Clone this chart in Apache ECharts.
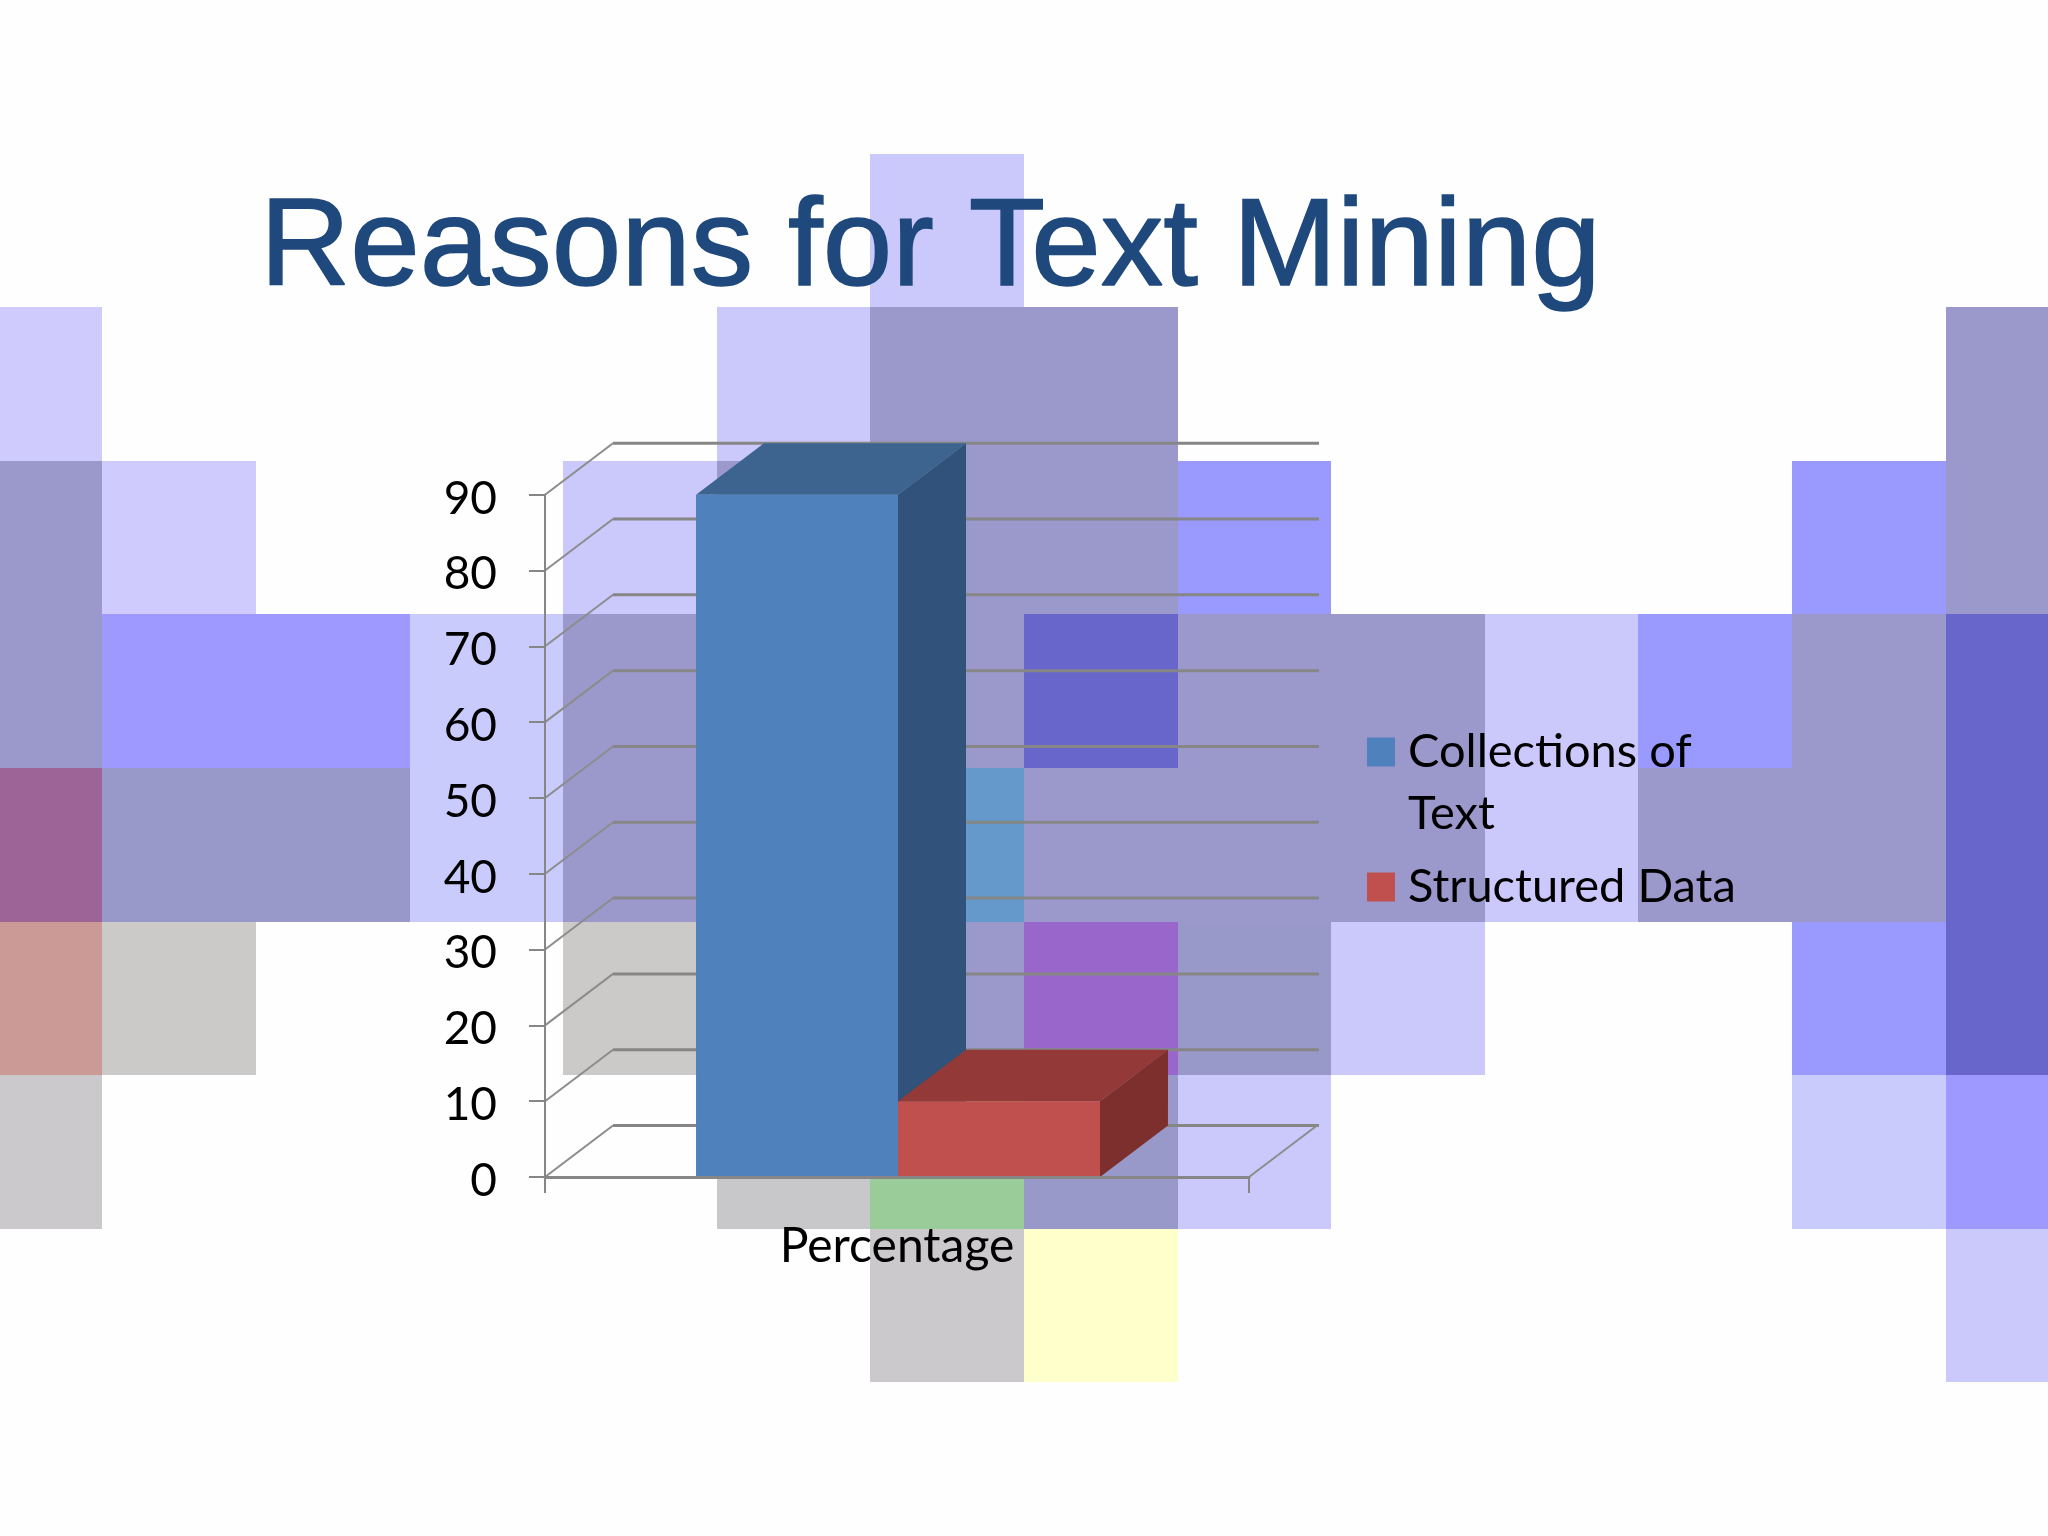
<!DOCTYPE html>
<html>
<head>
<meta charset="utf-8">
<style>html,body{margin:0;padding:0;background:#fefefe}#c{width:2048px;height:1536px}</style>
<script src="https://cdn.jsdelivr.net/npm/echarts@6/dist/echarts.min.js"></script>
</head>
<body>
<div id="c"></div>
<script>
const titleText = 'Reasons for Text Mining';
const categories = ['Percentage'];
const collectionsOfText = [90];
const structuredData = [10];
const yTicks = [0, 10, 20, 30, 40, 50, 60, 70, 80, 90];
const seriesNames = ['Collections of Text', 'Structured Data'];

const L = '#cbc9fb', D = '#9b98cc', M = '#9a99fd', S = '#6865cb', B = '#9899c8', G = '#cbcac9';
const backgroundCells = [
  [6,1,L],
  [0,2,'#cfcbfd'],[5,2,L],[6,2,D],[7,2,D],[13,2,D],
  [0,3,D],[1,3,'#cfcbfd'],[4,3,L],[5,3,D],[6,3,D],[7,3,D],[8,3,M],[12,3,M],[13,3,D],
  [0,4,D],[1,4,'#9d99fe'],[2,4,'#9d99fe'],[3,4,'#c9cbfc'],[4,4,D],[5,4,D],[6,4,D],[7,4,S],[8,4,D],[9,4,D],[10,4,L],[11,4,M],[12,4,D],[13,4,S],
  [0,5,'#9c6497'],[1,5,B],[2,5,B],[3,5,'#c9cbfc'],[4,5,D],[5,5,D],[6,5,'#6599cc'],[7,5,D],[8,5,D],[9,5,D],[10,5,L],[11,5,D],[12,5,D],[13,5,S],
  [0,6,'#cb9a97'],[1,6,G],[4,6,G],[5,6,D],[6,6,D],[7,6,'#9966cc'],[8,6,B],[9,6,L],[12,6,M],[13,6,S],
  [0,7,'#cbc9cc'],[5,7,'#c8c8cb'],[6,7,'#99cc99'],[7,7,B],[8,7,L],[12,7,'#c9cbfc'],[13,7,'#9d99fe'],
  [6,8,'#cbc9cc'],[7,8,'#ffffcc'],[13,8,L]
];

const depthX = 68, depthY = -51.5;
const barShare = 0.2869, barShift = 1;
const palette = [
  {front:'#4f81bd', side:'#31527a', top:'#3c648f'},
  {front:'#c0504d', side:'#7d2f2e', top:'#933a38'}
];

function bar3d(idx) {
  return function (params, api) {
    const c = palette[idx];
    const band = api.size([1, 0])[0];
    const w = band * barShare;
    const center = api.coord([api.value(0), 0])[0];
    const x0 = center + (idx - 1) * w + barShift, x1 = x0 + w;
    const y0 = api.coord([api.value(0), 0])[1];
    const y1 = api.coord([api.value(0), api.value(1)])[1];
    const dx = depthX, dy = depthY;
    return {type:'group', children:[
      {type:'polygon', shape:{points:[[x1,y1],[x1+dx,y1+dy],[x1+dx,y0+dy],[x1,y0]]}, style:{fill:c.side}},
      {type:'polygon', shape:{points:[[x0,y1],[x0+dx,y1+dy],[x1+dx,y1+dy],[x1,y1]]}, style:{fill:c.top}},
      {type:'rect', shape:{x:x0,y:y1,width:w,height:y0-y1}, style:{fill:c.front}}
    ]};
  };
}

function wall(params, api) {
  const cs = params.coordSys;
  const y = api.coord([0, api.value(1)])[1];
  const left = cs.x, right = cs.x + cs.width;
  const diag = {stroke:'#8c8c8c', lineWidth:2, fill:'none'};
  const flat = {stroke:'#868686', lineWidth:3, fill:'none'};
  const kids = [
    {type:'line', shape:{x1:left,y1:y,x2:left+depthX,y2:y+depthY}, style:diag},
    {type:'line', shape:{x1:left+depthX,y1:y+depthY,x2:right+depthX+2,y2:y+depthY}, style:flat}
  ];
  if (api.value(1) === 0) {
    kids.push({type:'line', shape:{x1:right,y1:y,x2:right+depthX,y2:y+depthY}, style:diag});
  }
  return {type:'group', children:kids};
}

const chart = echarts.init(document.getElementById('c'), null, {renderer:'canvas'});
chart.setOption({
  animation:false,
  backgroundColor:'#fefefe',
  title:{
    text:titleText, left:255, top:183,
    textStyle:{fontFamily:'Liberation Sans', fontSize:125, fontWeight:'normal', color:'#1f497d',
      textBorderColor:'#1f497d', textBorderWidth:1.5}
  },
  legend:{
    orient:'vertical', left:1367, top:659, padding:0, itemWidth:28, itemHeight:29, itemGap:11, selectedMode:false,
    icon:'rect',
    data:seriesNames,
    formatter:function(n){ return n === seriesNames[0] ? ' \nCollections of\nText' : n; },
    textStyle:{fontFamily:'Lato', fontSize:47, color:'#000', lineHeight:62, padding:[0,0,0,8]}
  },
  grid:[
    {left:545, right:799, top:494.7, bottom:359},
    {left:0, right:0, top:0, bottom:0}
  ],
  xAxis:[
    {type:'category', gridIndex:0, data:categories, z:5,
      axisLine:{lineStyle:{color:'#868686', width:3}},
      axisTick:{show:true, length:16, alignWithLabel:false, lineStyle:{color:'#868686', width:2}},
      axisLabel:{fontFamily:'Lato', fontSize:48, color:'#000', margin:46}},
    {type:'value', gridIndex:1, min:1/3, max:41/3, show:false}
  ],
  yAxis:[
    {type:'value', gridIndex:0, min:0, max:90, interval:10, z:5,
      axisLine:{show:true, lineStyle:{color:'#868686', width:2}},
      axisTick:{show:true, length:16, lineStyle:{color:'#868686', width:2}},
      splitLine:{show:false},
      axisLabel:{fontFamily:'Lato', fontSize:46, color:'#000', margin:48, verticalAlign:'top', lineHeight:8}},
    {type:'value', gridIndex:1, min:0, max:10, inverse:true, show:false}
  ],
  series:[
    {type:'custom', xAxisIndex:1, yAxisIndex:1, z:0, silent:true, clip:false,
      data:backgroundCells.map(c => [c[0], c[1]]),
      renderItem:function(params, api){
        const col = api.value(0), row = api.value(1);
        const a = api.coord([col, row]), b = api.coord([col + 1, row + 1]);
        const x = Math.round(a[0]), y = Math.round(a[1]);
        return {type:'rect', shape:{x:x, y:y, width:Math.round(b[0])-x, height:Math.round(b[1])-y},
          style:{fill:backgroundCells[params.dataIndex][2]}};
      }},
    {type:'custom', xAxisIndex:0, yAxisIndex:0, z:1, silent:true,
      data:yTicks.map(v => [0, v]), renderItem:wall},
    {type:'custom', name:seriesNames[0], xAxisIndex:0, yAxisIndex:0, z:3,
      itemStyle:{color:palette[0].front},
      data:collectionsOfText.map((v,i) => [i, v]), renderItem:bar3d(0)},
    {type:'custom', name:seriesNames[1], xAxisIndex:0, yAxisIndex:0, z:4,
      itemStyle:{color:palette[1].front},
      data:structuredData.map((v,i) => [i, v]), renderItem:bar3d(1)}
  ]
});
</script>
</body>
</html>
